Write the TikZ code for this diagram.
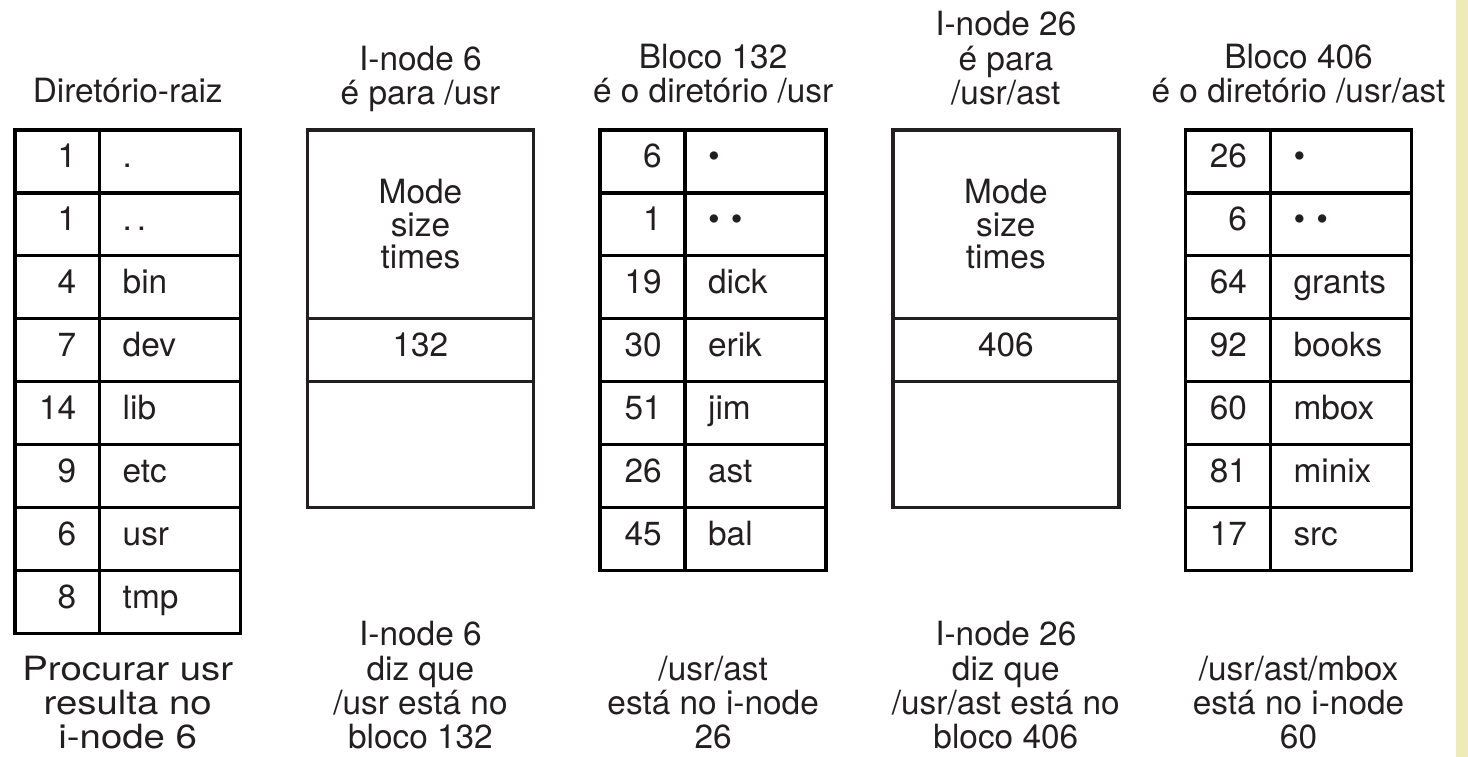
\documentclass[tikz,border=0pt]{standalone}
\usepackage{fontspec}
\setmainfont{TeX Gyre Heros}
\usetikzlibrary{positioning,matrix}
\definecolor{ink}{RGB}{35,31,32}
\definecolor{strip}{RGB}{240,234,182}
\tikzset{
 num/.style
  = {rectangle, draw, line width=2pt, outer sep=0pt, minimum height=1.26cm,
     inner ysep=0pt, text height=0.72em, text depth=0pt,
     text width=0.76cm, inner xsep=0.47cm, align=right},
 nam/.style
  = {num, text width=1.9cm, inner xsep=0.46cm, align=left},
 dirtab/.style
  = {matrix of nodes, inner sep=0pt, outer sep=0pt, row sep=-2pt, column sep=-2pt,
     column 1/.style={nodes={num}}, column 2/.style={nodes={nam}}},
 inode/.style
  = {rectangle, draw, line width=2pt, outer sep=0pt, minimum width=4.52cm,
     inner sep=0pt, align=center},
 attr/.style
  = {inode, minimum height=3.78cm, font=\fontsize{19}{18.5}\selectfont},
 ttl/.style
  = {inner sep=0pt, align=center, text depth=0pt},
}
\begin{document}
\begin{tikzpicture}[x=0.02cm, y=-0.02cm, color=ink, font=\fontsize{19}{19.5}\selectfont]
    \useasboundingbox (0,0) rectangle (1468,757);
    \fill [strip] (1456,0) rectangle (1468,757);
    \coordinate (foot) at (0,749);

    \matrix [dirtab, anchor=north west] (root) at (13,128) {
      1 & . \\
      1 & .\hspace{0.15em}. \\
      4 & bin \\
      7 & dev \\
      14 & lib \\
      9 & etc \\
      6 & usr \\
      8 & tmp \\
    };
    \node [attr, right=1.3cm of root.north east, anchor=north west, yshift=-1pt] (i6) {Mode\\size\\times};
    \node [inode, minimum height=1.26cm, text height=0.72em, text depth=0pt, below=0pt of i6] (i6blk) {132};
    \node [inode, minimum height=2.52cm, below=0pt of i6blk] (i6free) {};
    \matrix [dirtab, right=1.3cm of i6.north east, anchor=north west, yshift=1pt] (b132) {
      6 & • \\
      1 & • • \\
      19 & dick \\
      30 & erik \\
      51 & jim \\
      26 & ast \\
      45 & bal \\
    };
    \node [attr, right=1.3cm of b132.north east, anchor=north west, yshift=-1pt] (i26) {Mode\\size\\times};
    \node [inode, minimum height=1.26cm, text height=0.72em, text depth=0pt, below=0pt of i26] (i26blk) {406};
    \node [inode, minimum height=2.52cm, below=0pt of i26blk] (i26free) {};
    \matrix [dirtab, right=1.3cm of i26.north east, anchor=north west, yshift=1pt] (b406) {
      26 & • \\
      6 & • • \\
      64 & grants \\
      92 & books \\
      60 & mbox \\
      81 & minix \\
      17 & src \\
    };

    % titles
    \node [ttl, above=0.5cm of root] (troot) {Diretório-raiz};
    \node [ttl, above=0.5cm of i6] (ti6) {I-node 6\\é para /usr};
    \node [ttl, above=0.5cm of b132] (tb132) {Bloco 132\\é o diretório /usr};
    \node [ttl, above=0.5cm of i26] (ti26) {I-node 26\\é para\\/usr/ast};
    \node [ttl, above=0.5cm of b406] (tb406) {Bloco 406\\é o diretório /usr/ast};

    % captions
    \node [ttl, anchor=south, xscale=1.15, transform shape] (croot) at (root.south |- foot) {Procurar usr\\resulta no\\i-node 6};
    \node [ttl, anchor=south] (ci6) at (i6.south |- foot) {I-node 6\\diz que\\/usr está no\\bloco 132};
    \node [ttl, anchor=south] (cb132) at (b132.south |- foot) {/usr/ast\\está no i-node\\26};
    \node [ttl, anchor=south] (ci26) at (i26.south |- foot) {I-node 26\\diz que\\/usr/ast está no\\bloco 406};
    \node [ttl, anchor=south] (cb406) at (b406.south |- foot) {/usr/ast/mbox\\está no i-node\\60};
\end{tikzpicture}
\end{document}
